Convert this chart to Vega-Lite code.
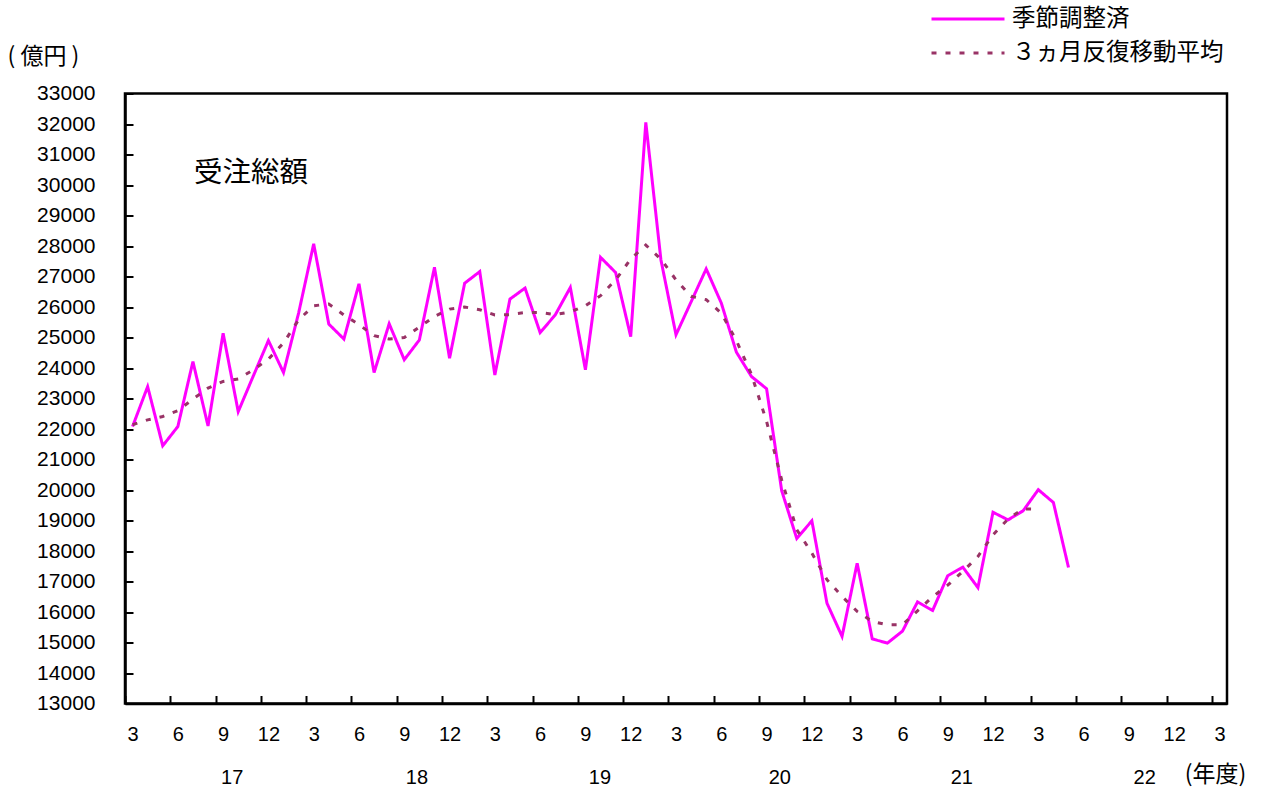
{
  "$schema": "https://vega.github.io/schema/vega-lite/v6.json",
  "width": 1102,
  "height": 610,
  "autosize": {"type": "none"},
  "padding": {"left": 125, "top": 93.5, "right": 36, "bottom": 88.5},
  "background": "white",
  "config": {
    "font": "Liberation Sans, Noto Sans CJK JP, sans-serif",
    "view": {"stroke": "black", "strokeWidth": 2.5},
    "axis": {
      "domainColor": "black",
      "domainWidth": 2.5,
      "tickColor": "black",
      "tickWidth": 2,
      "labelColor": "black",
      "titleColor": "black",
      "grid": false,
      "labelOverlap": false
    }
  },
  "datasets": {
    "main": [
      {"i": 0, "a": 22080, "m": 22140},
      {"i": 1, "a": 23390, "m": 22300},
      {"i": 2, "a": 21450, "m": 22410},
      {"i": 3, "a": 22080, "m": 22600},
      {"i": 4, "a": 24210, "m": 22980},
      {"i": 5, "a": 22100, "m": 23340},
      {"i": 6, "a": 25140, "m": 23560},
      {"i": 7, "a": 22570, "m": 23640},
      {"i": 8, "a": 23740, "m": 23940},
      {"i": 9, "a": 24900, "m": 24290},
      {"i": 10, "a": 23850, "m": 24820},
      {"i": 11, "a": 25800, "m": 25580},
      {"i": 12, "a": 28070, "m": 26040},
      {"i": 13, "a": 25440, "m": 26100},
      {"i": 14, "a": 24950, "m": 25740},
      {"i": 15, "a": 26760, "m": 25420},
      {"i": 16, "a": 23850, "m": 25060},
      {"i": 17, "a": 25450, "m": 24950},
      {"i": 18, "a": 24270, "m": 25000},
      {"i": 19, "a": 24920, "m": 25340},
      {"i": 20, "a": 27300, "m": 25690},
      {"i": 21, "a": 24320, "m": 25930},
      {"i": 22, "a": 26780, "m": 26000},
      {"i": 23, "a": 27160, "m": 25910},
      {"i": 24, "a": 23770, "m": 25740},
      {"i": 25, "a": 26260, "m": 25750},
      {"i": 26, "a": 26620, "m": 25820},
      {"i": 27, "a": 25160, "m": 25820},
      {"i": 28, "a": 25740, "m": 25750},
      {"i": 29, "a": 26640, "m": 25840},
      {"i": 30, "a": 23940, "m": 26040},
      {"i": 31, "a": 27630, "m": 26370},
      {"i": 32, "a": 27130, "m": 26890},
      {"i": 33, "a": 25030, "m": 27570},
      {"i": 34, "a": 32050, "m": 28030},
      {"i": 35, "a": 27550, "m": 27570},
      {"i": 36, "a": 25090, "m": 26890},
      {"i": 37, "a": 26170, "m": 26350},
      {"i": 38, "a": 27250, "m": 26240},
      {"i": 39, "a": 26130, "m": 25800},
      {"i": 40, "a": 24520, "m": 24900},
      {"i": 41, "a": 23720, "m": 23790},
      {"i": 42, "a": 23320, "m": 22250},
      {"i": 43, "a": 19980, "m": 20330},
      {"i": 44, "a": 18410, "m": 18700},
      {"i": 45, "a": 18990, "m": 17930},
      {"i": 46, "a": 16290, "m": 17060},
      {"i": 47, "a": 15200, "m": 16510},
      {"i": 48, "a": 17600, "m": 16020},
      {"i": 49, "a": 15120, "m": 15690},
      {"i": 50, "a": 14980, "m": 15580},
      {"i": 51, "a": 15370, "m": 15580},
      {"i": 52, "a": 16330, "m": 16040},
      {"i": 53, "a": 16050, "m": 16500},
      {"i": 54, "a": 17190, "m": 16880},
      {"i": 55, "a": 17470, "m": 17330},
      {"i": 56, "a": 16800, "m": 17820},
      {"i": 57, "a": 19270, "m": 18530},
      {"i": 58, "a": 19020, "m": 19050},
      {"i": 59, "a": 19320, "m": 19380},
      {"i": 60, "a": 20010, "m": 19370},
      {"i": 61, "a": 19590, "m": null},
      {"i": 62, "a": 17460, "m": null}
    ],
    "years": [
      {"i": 6.6, "v": 10560, "t": "17"},
      {"i": 18.84, "v": 10560, "t": "18"},
      {"i": 30.96, "v": 10560, "t": "19"},
      {"i": 42.88, "v": 10560, "t": "20"},
      {"i": 54.93, "v": 10560, "t": "21"},
      {"i": 67.05, "v": 10560, "t": "22"}
    ],
    "label": [
      {"i": 7.85, "v": 30380, "t": "受注総額"}
    ]
  },
  "encoding": {
    "x": {
      "field": "i",
      "type": "quantitative",
      "scale": {"domain": [-0.5, 72.5], "nice": false, "zero": false},
      "axis": {
        "values": [0, 3, 6, 9, 12, 15, 18, 21, 24, 27, 30, 33, 36, 39, 42, 45, 48, 51, 54, 57, 60, 63, 66, 69, 72],
        "labelExpr": "'' + ((datum.value + 2) % 12 + 1)",
        "tickOffset": -7.548,
        "labelOffset": 7.548,
        "tickSize": -8,
        "labelPadding": 29,
        "labelFontSize": 20,
        "labelBaseline": "top",
        "labelFlush": false,
        "labelOverlap": false,
        "title": "(年度)",
        "titleFont": "Noto Sans CJK JP",
        "titleFontSize": 23,
        "titleFontWeight": "normal",
        "titleAngle": 0,
        "titleAnchor": "start",
        "titleAlign": "center",
        "titleBaseline": "middle",
        "titleX": 1090,
        "titleY": 71
      }
    },
    "y": {
      "field": "v",
      "type": "quantitative",
      "scale": {"domain": [13000, 33000], "nice": false, "zero": false},
      "axis": {
        "values": [13000, 14000, 15000, 16000, 17000, 18000, 19000, 20000, 21000, 22000, 23000, 24000, 25000, 26000, 27000, 28000, 29000, 30000, 31000, 32000, 33000],
        "tickCount": 21,
        "format": "d",
        "tickSize": -8,
        "labelPadding": 38,
        "labelFontSize": 21,
        "labelOverlap": false,
        "labelSeparation": 0,
        "labelBound": false,
        "labelFlush": false,
        "title": "(   億円  )",
        "titleFont": "Noto Sans CJK JP",
        "titleFontSize": 23,
        "titleFontWeight": "normal",
        "titleAngle": 0,
        "titleAlign": "left",
        "titleBaseline": "middle",
        "titleX": -118,
        "titleY": -37
      }
    }
  },
  "layer": [
    {
      "data": {"name": "main"},
      "transform": [
        {"fold": ["a", "m"], "as": ["k", "v"]},
        {"filter": "datum.v != null"}
      ],
      "mark": {"type": "line", "strokeWidth": 3, "strokeCap": "butt"},
      "encoding": {
        "color": {
          "field": "k",
          "type": "nominal",
          "scale": {"domain": ["a", "m"], "range": ["#FF00FF", "#993366"]},
          "legend": {
            "orient": "none",
            "legendX": 805,
            "legendY": -91.5,
            "title": null,
            "padding": 0,
            "symbolType": "stroke",
            "symbolSize": 5329,
            "symbolStrokeWidth": 3,
            "clipHeight": 34,
            "rowPadding": 0,
            "labelOffset": 6,
            "labelFont": "Noto Sans CJK JP",
            "labelFontSize": 23.5,
            "labelColor": "black",
            "labelLimit": 400,
            "labelExpr": "datum.label == 'a' ? '季節調整済' : '３ヵ月反復移動平均'"
          }
        },
        "strokeDash": {
          "field": "k",
          "type": "nominal",
          "scale": {"domain": ["a", "m"], "range": [[1, 0], [5, 9]]},
          "legend": {
            "orient": "none",
            "legendX": 805,
            "legendY": -91.5,
            "title": null,
            "padding": 0,
            "symbolType": "stroke",
            "symbolSize": 5329,
            "symbolStrokeWidth": 3,
            "clipHeight": 34,
            "rowPadding": 0,
            "labelOffset": 6,
            "labelFont": "Noto Sans CJK JP",
            "labelFontSize": 23.5,
            "labelColor": "black",
            "labelLimit": 400,
            "labelExpr": "datum.label == 'a' ? '季節調整済' : '３ヵ月反復移動平均'"
          }
        }
      }
    },
    {
      "data": {"name": "years"},
      "mark": {"type": "text", "fontSize": 20, "align": "center", "baseline": "middle", "color": "black"},
      "encoding": {
        "text": {"field": "t"}
      }
    },
    {
      "data": {"name": "label"},
      "mark": {"type": "text", "fontSize": 28.5, "align": "center", "baseline": "middle", "color": "black", "font": "Noto Sans CJK JP"},
      "encoding": {
        "text": {"field": "t"}
      }
    }
  ]
}
